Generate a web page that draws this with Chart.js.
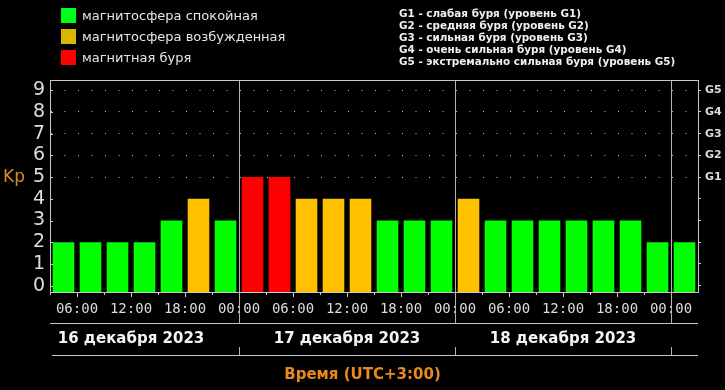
<!DOCTYPE html>
<html>
<head>
<meta charset="utf-8">
<script src="https://cdn.jsdelivr.net/npm/chart.js@4/dist/chart.umd.min.js"></script>
<style>
  html, body { margin: 0; padding: 0; background: #000; }
  #wrap { position: relative; width: 725px; height: 390px; background: #000; overflow: hidden; }
  canvas { position: absolute; left: 0; top: 0; }
  .leg { position: absolute; left: 61px; font: 13px "DejaVu Sans", sans-serif; color: #e6e6e6; white-space: nowrap; }
  .leg i { display: inline-block; width: 15px; height: 15px; vertical-align: middle; margin-right: 6px; }
  .leg span { vertical-align: middle; }
  #glegend { position: absolute; left: 399px; top: 7px; font: bold 10.4px "DejaVu Sans", sans-serif; line-height: 12px; color: #f0f0f0; white-space: nowrap; }
  #kp { position: absolute; left: 3px; top: 166px; font: 17px "DejaVu Sans", sans-serif; color: #d98a2a; }
</style>
</head>
<body>
<div id="wrap">
  <canvas id="c" width="725" height="390"></canvas>
  <div id="legend"></div>
  <div id="glegend"></div>
  <div id="kp">Kp</div>
</div>
<script>
// ---- data ----
const SLOT_START = [
  '16.12 03:00','16.12 06:00','16.12 09:00','16.12 12:00','16.12 15:00','16.12 18:00','16.12 21:00',
  '17.12 00:00','17.12 03:00','17.12 06:00','17.12 09:00','17.12 12:00','17.12 15:00','17.12 18:00','17.12 21:00',
  '18.12 00:00','18.12 03:00','18.12 06:00','18.12 09:00','18.12 12:00','18.12 15:00','18.12 18:00','18.12 21:00',
  '19.12 00:00'
];
const KP = [2,2,2,2,3,4,3, 5,5,4,4,4,3,3,3, 4,3,3,3,3,3,3,2, 2];
const Y_TICKS = [0,1,2,3,4,5,6,7,8,9];
const G_TICKS = ['G1','G2','G3','G4','G5'];
const LABEL_HOURS = ['06:00','12:00','18:00','00:00'];
const DAYS = ['16.12','17.12','18.12'];
const DAY_LABELS = ['16 декабря 2023','17 декабря 2023','18 декабря 2023'];
const LEGEND = ['магнитосфера спокойная','магнитосфера возбужденная','магнитная буря'];
const G_LEGEND = [
  'G1 - слабая буря (уровень G1)',
  'G2 - средняя буря (уровень G2)',
  'G3 - сильная буря (уровень G3)',
  'G4 - очень сильная буря (уровень G4)',
  'G5 - экстремально сильная буря (уровень G5)'
];
const AXIS_TITLE = 'Время (UTC+3:00)';

// ---- styles ----
const C_QUIET = '#00ff00', C_ACTIVE = '#ffc000', C_STORM = '#ff0000';
const LEG_COLORS = ['#00ff1a', '#d9b600', '#ff0000'];
const LINE = '#c8c8c8';
const TXT = '#dcdcdc';
const ORANGE = '#e8891c';
const Y_MIN = -0.29, Y_MAX = 9.47;

const hour = s => s.split(' ')[1];
const colorFor = v => v >= 5 ? C_STORM : (v >= 4 ? C_ACTIVE : C_QUIET);

// legends (HTML text)
const legEl = document.getElementById('legend');
LEGEND.forEach((t, i) => {
  const d = document.createElement('div');
  d.className = 'leg';
  d.style.top = (7 + i * 21) + 'px';
  d.innerHTML = '<i style="background:' + LEG_COLORS[i] + '"></i><span></span>';
  d.querySelector('span').textContent = t;
  legEl.appendChild(d);
});
document.getElementById('glegend').innerHTML = G_LEGEND.map(t => '<div></div>').join('');
document.querySelectorAll('#glegend div').forEach((d, i) => d.textContent = G_LEGEND[i]);

const frame = {
  id: 'frame',
  afterDraw(chart) {
    const {ctx, chartArea: a, scales} = chart;
    const xs = scales.x, xd = scales.xd, y = scales.y;
    const r = v => Math.round(v) + 0.5;
    const line = (x1, y1, x2, y2, c) => { ctx.strokeStyle = c || LINE; ctx.beginPath(); ctx.moveTo(x1, y1); ctx.lineTo(x2, y2); ctx.stroke(); };
    ctx.save();
    ctx.lineWidth = 1;
    line(a.left, r(a.top), a.right, r(a.top));
    y.ticks.forEach(t => { const py = r(y.getPixelForValue(t.value)); line(a.left, py, a.left + 3, py); });
    SLOT_START.forEach((s, i) => {
      const px = r(xd.getPixelForValue(i - 0.5));
      const major = LABEL_HOURS.includes(hour(s));
      line(px, a.bottom, px, a.bottom + (major ? 5 : 3));
    });
    line(a.left, r(xs.bottom), a.right, r(xs.bottom));
    line(a.left + 2, r(xd.bottom), a.right, r(xd.bottom));
    SLOT_START.forEach((s, i) => {
      if (hour(s) === '00:00') {
        const px = r(xd.getPixelForValue(i - 0.5));
        line(px, a.top, px, xs.bottom + 1, '#b4b4b4');
        line(px, xd.bottom - 8, px, xd.bottom, '#b4b4b4');
      }
    });
    ctx.restore();
  }
};

new Chart(document.getElementById('c'), {
  type: 'bar',
  data: {
    labels: SLOT_START,
    datasets: [{
      data: KP,
      backgroundColor: KP.map(colorFor),
      base: Y_MIN,
      barPercentage: 0.8,
      categoryPercentage: 1.0,
      xAxisID: 'x',
      yAxisID: 'y'
    }]
  },
  options: {
    responsive: false,
    animation: false,
    devicePixelRatio: 1,
    layout: { padding: { top: 80, left: 0, right: 0, bottom: 0 } },
    plugins: {
      legend: { display: false },
      tooltip: { enabled: false },
      title: {
        display: true, position: 'bottom', text: AXIS_TITLE, color: ORANGE,
        font: { family: 'DejaVu Sans', size: 15, weight: 'bold' },
        padding: { top: 11.6, bottom: 5.4 }
      }
    },
    scales: {
      x: {
        type: 'category', position: 'bottom', offset: true, weight: 0,
        grid: { display: false, drawTicks: false },
        border: { display: true, color: LINE, width: 1 },
        ticks: {
          autoSkip: false, maxRotation: 0, minRotation: 0, padding: 9,
          labelOffset: -13.5, color: TXT,
          font: { family: 'DejaVu Sans Mono', size: 14 },
          callback: (v, i) => LABEL_HOURS.includes(hour(SLOT_START[i])) ? hour(SLOT_START[i]) : ''
        },
        afterFit: s => { s.height = 31; }
      },
      xd: {
        type: 'linear', position: 'bottom', weight: 1, offset: false,
        min: -0.5, max: SLOT_START.length - 0.5,
        grid: { display: false, drawTicks: false, offset: false },
        border: { display: false },
        afterBuildTicks: s => {
          s.ticks = DAYS.map(d => ({ value: SLOT_START.indexOf(d + ' 12:00') - 0.5 }));
        },
        ticks: {
          autoSkip: false, maxRotation: 0, padding: 7, color: '#f4f4f4',
          font: { family: 'DejaVu Sans', size: 15, weight: 'bold' },
          callback: (v, i) => DAY_LABELS[i]
        },
        afterFit: s => { s.height = 32; }
      },
      y: {
        type: 'linear', position: 'left', min: Y_MIN, max: Y_MAX,
        afterBuildTicks: s => { s.ticks = Y_TICKS.map(v => ({ value: v })); },
        grid: {
          drawTicks: false, lineWidth: 1,
          color: c => (c.tick && c.tick.value >= 5) ? '#c0c0c0' : 'rgba(0,0,0,0)'
        },
        border: { display: true, color: LINE, width: 1, dash: [1, 12.5], dashOffset: 0 },
        ticks: { autoSkip: false, padding: 5, color: TXT, font: { family: 'DejaVu Sans', size: 19 } },
        afterFit: s => { s.width = 50; }
      },
      y2: {
        type: 'linear', position: 'right', min: Y_MIN, max: Y_MAX,
        afterBuildTicks: s => { s.ticks = Y_TICKS.map(v => ({ value: v })); },
        grid: { drawOnChartArea: false, drawTicks: true, tickLength: 3, color: LINE },
        border: { display: true, color: LINE, width: 1 },
        ticks: {
          autoSkip: false, padding: 4, color: TXT, font: { family: 'DejaVu Sans', size: 11, weight: 'bold' },
          callback: v => v >= 5 ? G_TICKS[v - 5] : ''
        },
        afterFit: s => { s.width = 27; }
      }
    }
  },
  plugins: [frame]
});
</script>
</body>
</html>
